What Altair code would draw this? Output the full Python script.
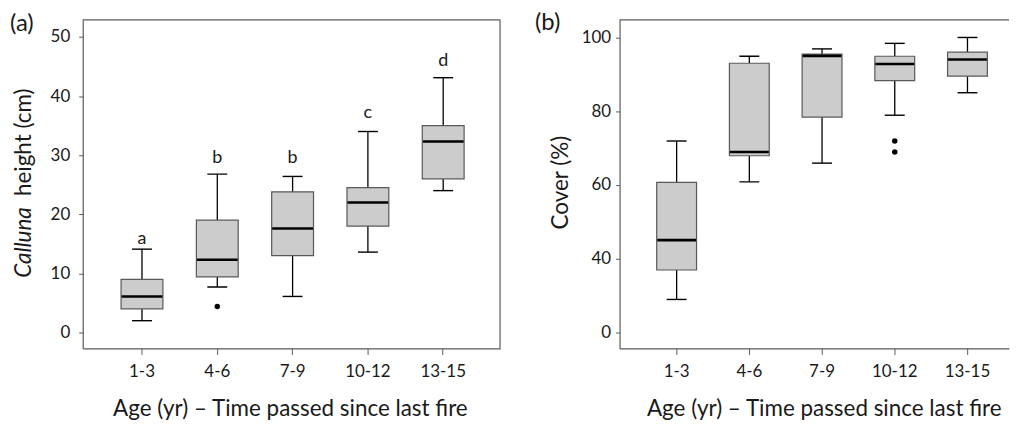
import altair as alt
import pandas as pd

cats = ["1-3", "4-6", "7-9", "10-12", "13-15"]

# Panel (a): Calluna height (cm)
a_low = [2.0, 7.7, 6.1, 13.6, 24.0]
a_q1 = [4.0, 9.4, 13.0, 18.0, 26.0]
a_med = [6.1, 12.3, 17.6, 22.0, 32.3]
a_q3 = [9.0, 19.0, 23.8, 24.5, 35.0]
a_high = [14.1, 26.8, 26.4, 34.0, 43.1]
a_out_cat = ["4-6"]
a_out_val = [4.4]
a_letters = ["a", "b", "b", "c", "d"]
a_letter_y = [15.0, 28.6, 28.6, 36.3, 45.1]

# Panel (b): Cover (%)  (broken axis: tick at 20 is labelled "0")
b_low = [28.9, 60.8, 65.9, 78.9, 85.0]
b_q1 = [36.9, 67.9, 78.4, 88.3, 89.5]
b_med = [45.0, 68.9, 95.0, 92.8, 94.0]
b_q3 = [60.7, 93.0, 95.5, 94.9, 96.0]
b_high = [71.9, 94.9, 96.9, 98.4, 100.0]
b_out_cat = ["10-12", "10-12"]
b_out_val = [71.9, 68.9]

FONT = "Lato"
FRAME = "#595959"
BOXFILL = "#cccccc"
TXT = "#1a1a1a"
TICKFS = 17
TITLEFS = 22.5


def panel(low, q1, med, q3, high, out_cat, out_val, ydom, yvals,
          box_w, align, pad_outer, ylabel_pad, label_expr=None, letters=None, letter_y=None):
    df = pd.DataFrame({"cat": cats, "low": low, "q1": q1, "med": med, "q3": q3, "high": high})
    dfo = pd.DataFrame({"cat": out_cat, "val": out_val})
    xs = alt.X("cat:N", sort=cats, title=None,
               scale=alt.Scale(paddingInner=0, paddingOuter=pad_outer, align=align),
               axis=alt.Axis(labelAngle=0, labelFont=FONT, labelFontSize=TICKFS, labelColor=TXT,
                             tickSize=6, tickColor=FRAME, domainColor=FRAME, labelPadding=9))
    axkw = dict(values=yvals, labelFont=FONT, labelFontSize=TICKFS, labelColor=TXT,
                tickSize=4, tickColor=FRAME, domainColor=FRAME, grid=False,
                labelPadding=ylabel_pad)
    if label_expr:
        axkw["labelExpr"] = label_expr
    yaxis = alt.Axis(**axkw)
    ys = alt.Scale(domain=ydom, nice=False, zero=False)
    base = alt.Chart(df)
    xc = alt.X("cat:N", sort=cats)
    wl = base.mark_rule(color="black", strokeWidth=1.3).encode(
        x=xs, y=alt.Y("low:Q", scale=ys, axis=yaxis, title=None), y2="q1:Q")
    wh = base.mark_rule(color="black", strokeWidth=1.3).encode(
        x=xc, y=alt.Y("q3:Q"), y2="high:Q")
    box = base.mark_bar(size=box_w, fill=BOXFILL, stroke=FRAME, strokeWidth=1.2, opacity=1).encode(
        x=xc, y=alt.Y("q1:Q"), y2="q3:Q")
    cap_l = base.mark_tick(size=20, thickness=1.4, color="black", opacity=1).encode(
        x=xc, y=alt.Y("low:Q"))
    cap_h = base.mark_tick(size=20, thickness=1.4, color="black", opacity=1).encode(
        x=xc, y=alt.Y("high:Q"))
    med_t = base.mark_tick(size=box_w - 1, thickness=2.6, color="black", opacity=1).encode(
        x=xc, y=alt.Y("med:Q"))
    outl = alt.Chart(dfo).mark_circle(size=30, color="black", opacity=1).encode(
        x=xc, y=alt.Y("val:Q"))
    layers = [wl, wh, box, cap_l, cap_h, med_t, outl]
    if letters:
        dfl = pd.DataFrame({"cat": cats, "lab": letters, "ly": letter_y})
        lt = alt.Chart(dfl).mark_text(font=FONT, fontSize=18, color=TXT, baseline="alphabetic").encode(
            x=xc, y=alt.Y("ly:Q"), text="lab:N")
        layers.append(lt)
    return layers


W_A, W_B, H = 419, 391, 330
GAP = 120

la = panel(a_low, a_q1, a_med, a_q3, a_high, a_out_cat, a_out_val,
           [-2.7, 52.9], [0, 10, 20, 30, 40, 50], 42, 0.53, 0.271, 9,
           letters=a_letters, letter_y=a_letter_y)
lb = panel(b_low, b_q1, b_med, b_q3, b_high, b_out_cat, b_out_val,
           [15.6, 104.8], [20, 40, 60, 80, 100], 40, 0.8, 0.178, 5,
           label_expr="datum.value == 20 ? '0' : datum.label")

one = pd.DataFrame({"k": [0]})


def txt(text, x, y, size, align="center", baseline="middle", angle=0, style="normal"):
    kw = dict(font=FONT, fontSize=size, color=TXT, align=align, baseline=baseline, fontStyle=style)
    if angle:
        kw["angle"] = angle
    return alt.Chart(one).mark_text(**kw).encode(x=alt.value(x), y=alt.value(y), text=alt.value(text))


def frame(w, right=True):
    parts = [alt.Chart(one).mark_rule(color=FRAME, strokeWidth=1.2).encode(
        x=alt.value(0), x2=alt.value(w), y=alt.value(0))]
    if right:
        parts.append(alt.Chart(one).mark_rule(color=FRAME, strokeWidth=1.2).encode(
            x=alt.value(w), y=alt.value(0), y2=alt.value(H)))
    return parts


# invisible spacer fixing the top extent of the drawing
spacer = alt.Chart(one).mark_rule(opacity=0, strokeWidth=0.01).encode(
    x=alt.value(0), x2=alt.value(1), y=alt.value(-11))

xtitle = "Age (yr) \u2013 Time passed since last fire"

pa = alt.layer(
    *la, *frame(W_A, True), spacer,
    txt("(a)", -73, 4, 24, align="left"),
    txt("(b)", W_A + GAP - 85, 3, 24, align="left"),
    txt("Calluna", -59, 259, TITLEFS, align="left", angle=270, style="italic"),
    txt("height (cm)", -59, 69, TITLEFS, align="right", angle=270),
    txt(xtitle, 208.5, 398, TITLEFS, baseline="alphabetic"),
).properties(width=W_A, height=H)

pb = alt.layer(
    *lb, *frame(W_B, False),
    txt("Cover (%)", -59, 163.5, TITLEFS, angle=270),
    txt(xtitle, 205.5, 398, TITLEFS, baseline="alphabetic"),
).properties(width=W_B, height=H)

chart = alt.hconcat(pa, pb, spacing=GAP, bounds="flush").properties(
    padding={"left": 2, "top": 0, "right": 0, "bottom": 0}
).configure_view(stroke=None).configure_axis(domainWidth=1.2)

chart.save("out.html", embed_options={"renderer": "svg", "actions": False})
